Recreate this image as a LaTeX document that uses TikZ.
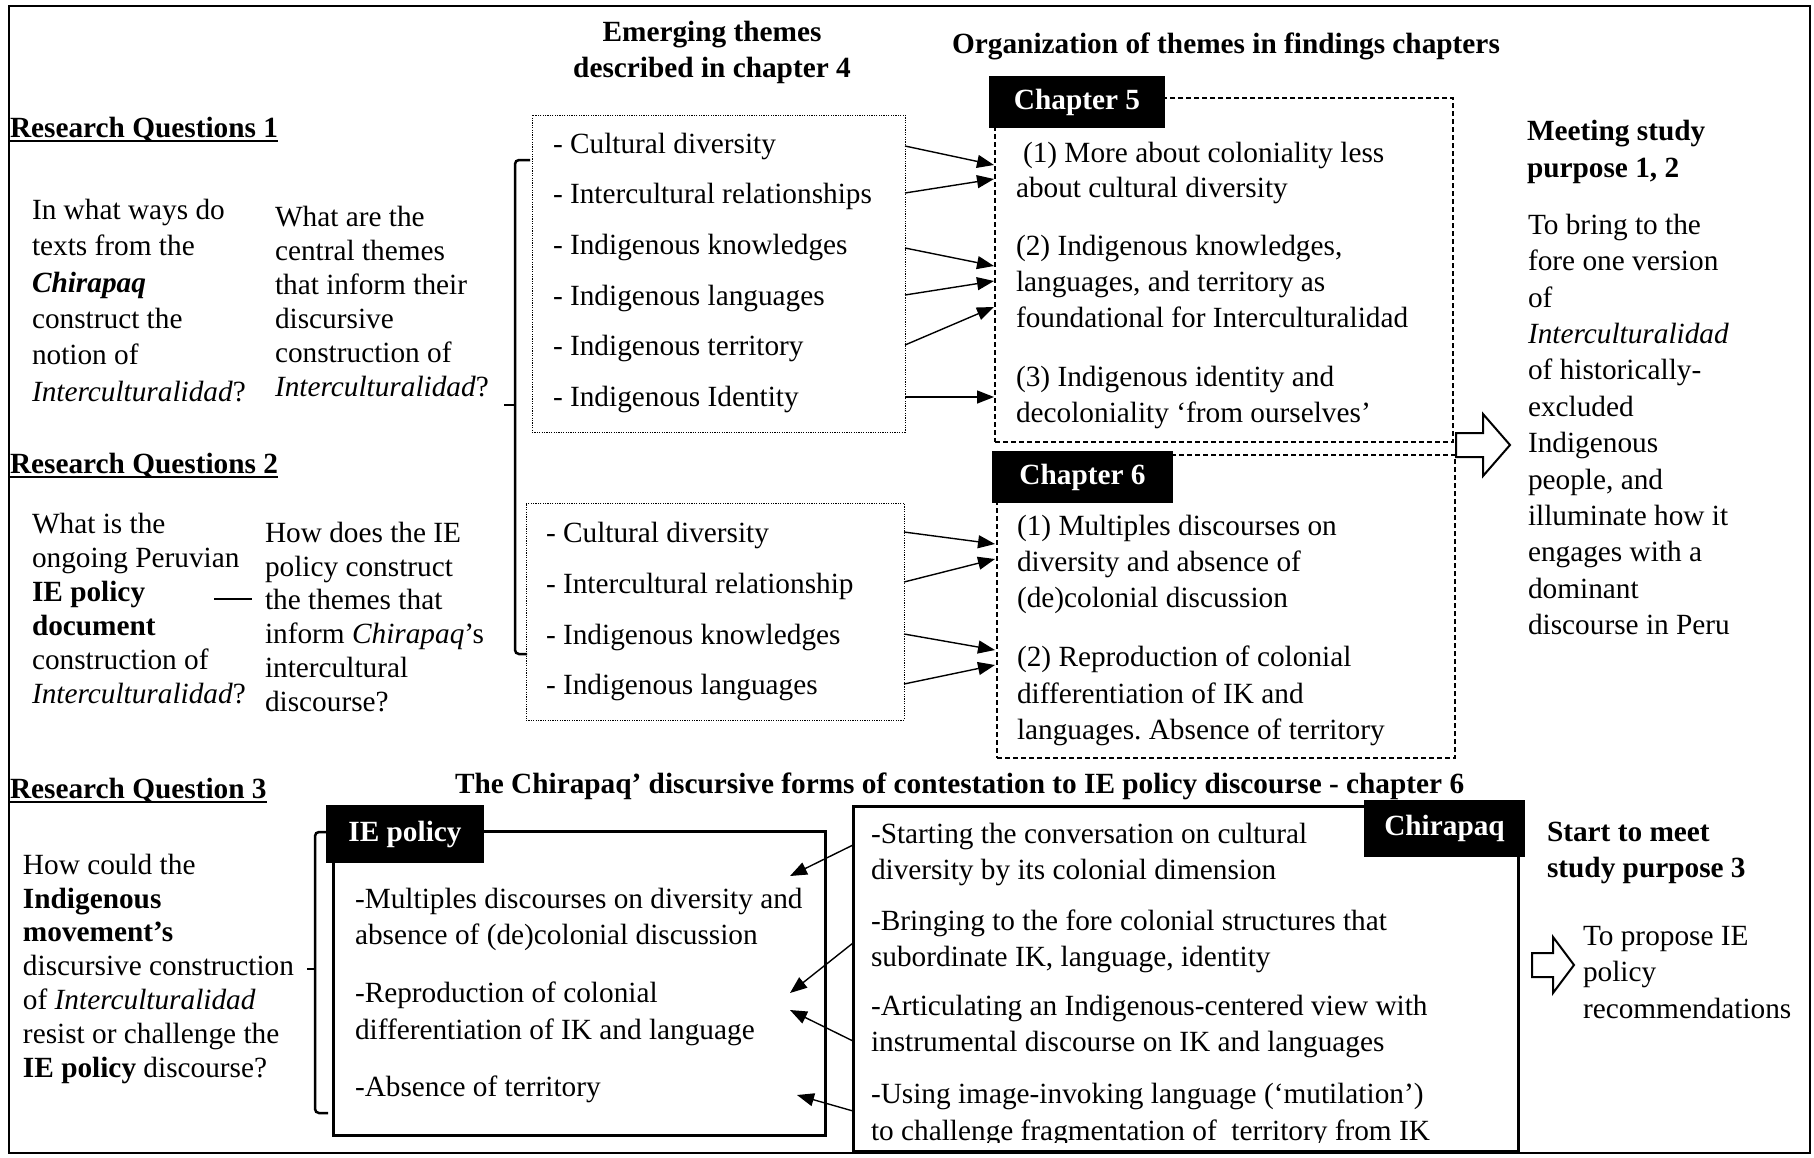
\documentclass[tikz,border=0pt]{standalone}
\usepackage{fontspec}
\setmainfont{Liberation Serif}
\usetikzlibrary{arrows.meta}
\frenchspacing
\begin{document}
\frenchspacing
\begin{tikzpicture}[x=1pt,y=-1pt,
  every node/.style={inner sep=0pt,outer sep=0pt},
  txt/.style={anchor=north west,align=left,font=\fontsize{29.3pt}{#1pt}\selectfont},
  txt/.default=36,
  hdm/.style={anchor=north west,align=left,font=\fontsize{29.3pt}{#1pt}\selectfont\bfseries},
  hdm/.default=36,
  one/.style={anchor=base west,font=\fontsize{29.3pt}{36pt}\selectfont},
  hd/.style={font=\fontsize{29.3pt}{36pt}\selectfont\bfseries},
  lab/.style={fill=black,text=white,font=\fontsize{29.3pt}{36pt}\selectfont\bfseries},
  dotbox/.style={draw,line width=1,dash pattern=on 1.2pt off 1.2pt},
  dashbox/.style={draw,line width=1.3,dash pattern=on 5pt off 3pt},
  solidbox/.style={draw,line width=3},
  arr/.style={line width=1.4,-{Triangle[length=17pt,width=13pt]}},
  brk/.style={line width=2.5,rounded corners=4pt},
  ul/.style={line width=2},
  hollow/.style={draw,line width=2,fill=white}
]
\useasboundingbox (0,0) rectangle (1814,1157);
\draw[line width=2.5] (9,6) rectangle (1810,1153);

% headings
\node[hd,anchor=north,align=center] (emerg) at (712,21) {Emerging themes\\described in chapter 4};
\node[hd,anchor=base] (org) at (1226,53) {Organization of themes in findings chapters};

% Research question 1
\node[hd,anchor=base west] (rq1) at (10,137) {Research Questions 1};
\draw[ul] ([yshift=-4pt]rq1.base west) -- ([yshift=-4pt]rq1.base east);
\node[txt=36.4] (q1a) at (32,199) {In what ways do\\texts from the\\\textbf{\textit{Chirapaq}}\\construct the\\notion of\\\textit{Interculturalidad}?};
\node[txt=34] (q1b) at (275,206) {What are the\\central themes\\that inform their\\discursive\\construction of\\\textit{Interculturalidad}?};

% Research question 2
\node[hd,anchor=base west] (rq2) at (10,473) {Research Questions 2};
\draw[ul] ([yshift=-4pt]rq2.base west) -- ([yshift=-4pt]rq2.base east);
\node[txt=34] (q2a) at (32,513) {What is the\\ongoing Peruvian\\\textbf{IE policy}\\\textbf{document}\\construction of\\\textit{Interculturalidad}?};
\node[txt=33.8] (q2b) at (265,522) {How does the IE\\policy construct\\the themes that\\inform \textit{Chirapaq}’s\\intercultural\\discourse?};
\coordinate (d1) at (214,599);
\coordinate (d2) at (252,599);
\draw[line width=1.8] (d1) -- (d2);

% Research question 3
\node[hd,anchor=base west] (rq3) at (10,798) {Research Question 3};
\draw[ul] ([yshift=-4pt]rq3.base west) -- ([yshift=-4pt]rq3.base east);
\node[txt=33.8] (q3) at (23,854) {How could the\\\textbf{Indigenous}\\\textbf{movement’s}\\discursive construction\\of \textit{Interculturalidad}\\resist or challenge the\\\textbf{IE policy} discourse?};

% brackets
\draw[brk] (530,160) -- (515,160) -- (515,654) -- (527,654);
\draw[line width=2.5] (515,405) -- (504,405);
\draw[brk] (327,832) -- (315,832) -- (315,1113) -- (328,1113);
\draw[line width=2.5] (315,969) -- (307,969);

% themes box 1
\node[dotbox,minimum width=373,minimum height=317] (box1) at (718.5,273.5) {};
\node[one] (a1) at (553,153) {- Cultural diversity};
\node[one] (a2) at (553,203) {- Intercultural relationships};
\node[one] (a3) at (553,254) {- Indigenous knowledges};
\node[one] (a4) at (553,305) {- Indigenous languages};
\node[one] (a5) at (553,355) {- Indigenous territory};
\node[one] (a6) at (553,406) {- Indigenous Identity};

% themes box 2
\node[dotbox,minimum width=378,minimum height=217] (box2) at (715,611.5) {};
\node[one] (b1) at (546,542) {- Cultural diversity};
\node[one] (b2) at (546,593) {- Intercultural relationship};
\node[one] (b3) at (546,644) {- Indigenous knowledges};
\node[one] (b4) at (546,694) {- Indigenous languages};

% chapter 5
\node[dashbox,minimum width=458,minimum height=344] (ch5) at (1224,270) {};
\node[lab,minimum width=176,minimum height=52] (ch5lab) at (1077,102) {Chapter 5};
\node[txt=35] (c5a) at (1016,142) {\hspace*{7pt}(1) More about coloniality less\\about cultural diversity};
\node[txt=36] (c5b) at (1016,235) {(2) Indigenous knowledges,\\languages, and territory as\\foundational for Interculturalidad};
\node[txt=36] (c5c) at (1016,366) {(3) Indigenous identity and\\decoloniality ‘from ourselves’};

% chapter 6
\node[dashbox,minimum width=458,minimum height=303] (ch6) at (1226,606.5) {};
\node[lab,minimum width=181,minimum height=52] (ch6lab) at (1082.5,477) {Chapter 6};
\node[txt=36] (c6a) at (1017,515) {(1) Multiples discourses on\\diversity and absence of\\(de)colonial discussion};
\node[txt=36.5] (c6b) at (1017,646) {(2) Reproduction of colonial\\differentiation of IK and\\languages. Absence of territory};

% arrows box1 -> chapter 5
\coordinate (s1) at (905,146); \coordinate (e1) at (994,165);
\coordinate (s2) at (905,193); \coordinate (e2) at (994,179);
\coordinate (s3) at (905,248); \coordinate (e3) at (994,266);
\coordinate (s4) at (905,295); \coordinate (e4) at (994,281);
\coordinate (s5) at (905,345); \coordinate (e5) at (994,307);
\coordinate (s6) at (905,397); \coordinate (e6) at (994,397);
\foreach \i in {1,...,6} \draw[arr] (s\i) -- (e\i);

% arrows box2 -> chapter 6
\coordinate (t1) at (904,532); \coordinate (f1) at (995,544);
\coordinate (t2) at (904,582); \coordinate (f2) at (995,559);
\coordinate (t3) at (904,634); \coordinate (f3) at (995,650);
\coordinate (t4) at (904,684); \coordinate (f4) at (995,665);
\foreach \i in {1,...,4} \draw[arr] (t\i) -- (f\i);

% right column top
\node[hdm=37] (meet) at (1527,120) {Meeting study\\purpose 1, 2};
\node[txt=36.4] (purp) at (1528,214) {To bring to the\\fore one version\\of\\\textit{Interculturalidad}\\of historically-\\excluded\\Indigenous\\people, and\\illuminate how it\\engages with a\\dominant\\discourse in Peru};
\draw[hollow] (1456,433) -- (1483,433) -- (1483,414) -- (1510,445) -- (1483,476) -- (1483,457) -- (1456,457) -- cycle;

% bottom section
\node[hd,anchor=base west] (chhead) at (455,793) {The Chirapaq’ discursive forms of contestation to IE policy discourse - chapter 6};

\node[solidbox,minimum width=492,minimum height=304] (ie) at (579,983) {};
\node[lab,minimum width=158,minimum height=58] (ielab) at (405,834) {IE policy};
\node[txt=36] (ie1) at (355,888) {-Multiples discourses on diversity and\\absence of (de)colonial discussion};
\node[txt=37] (ie2) at (355,982) {-Reproduction of colonial\\differentiation of IK and language};
\node[one] (ie3) at (355,1096) {-Absence of territory};

\node[solidbox,minimum width=665,minimum height=345] (chb) at (1185.5,978.5) {};
\begin{scope}
\clip (855,808) rectangle (1516,1142);
\node[txt=36] (h1) at (871,823) {-Starting the conversation on cultural\\diversity by its colonial dimension};
\node[txt=36] (h2) at (871,910) {-Bringing to the fore colonial structures that\\subordinate IK, language, identity};
\node[txt=36] (h3) at (871,995) {-Articulating an Indigenous-centered view with\\instrumental discourse on IK and languages};
\node[txt=37] (h4) at (871,1083) {-Using image-invoking language (‘mutilation’)\\to challenge fragmentation of~ territory from IK};
\end{scope}
\node[lab,minimum width=161,minimum height=57] (chlab) at (1444.5,828.5) {Chirapaq};

% arrows chirapaq -> IE policy
\coordinate (u1) at (853,845); \coordinate (v1) at (790,876);
\coordinate (u2) at (853,943); \coordinate (v2) at (790,993);
\coordinate (u3) at (853,1041); \coordinate (v3) at (790,1010);
\coordinate (u4) at (853,1111); \coordinate (v4) at (797,1095);
\foreach \i in {1,...,4} \draw[arr] (u\i) -- (v\i);

% right column bottom
\node[hdm=36] (start) at (1547,822) {Start to meet\\study purpose 3};
\draw[hollow] (1532,953) -- (1553,953) -- (1553,937) -- (1574,965) -- (1553,993) -- (1553,977) -- (1532,977) -- cycle;
\node[txt=36.5] (prop) at (1583,926) {To propose IE\\policy\\recommendations};
\end{tikzpicture}
\end{document}
